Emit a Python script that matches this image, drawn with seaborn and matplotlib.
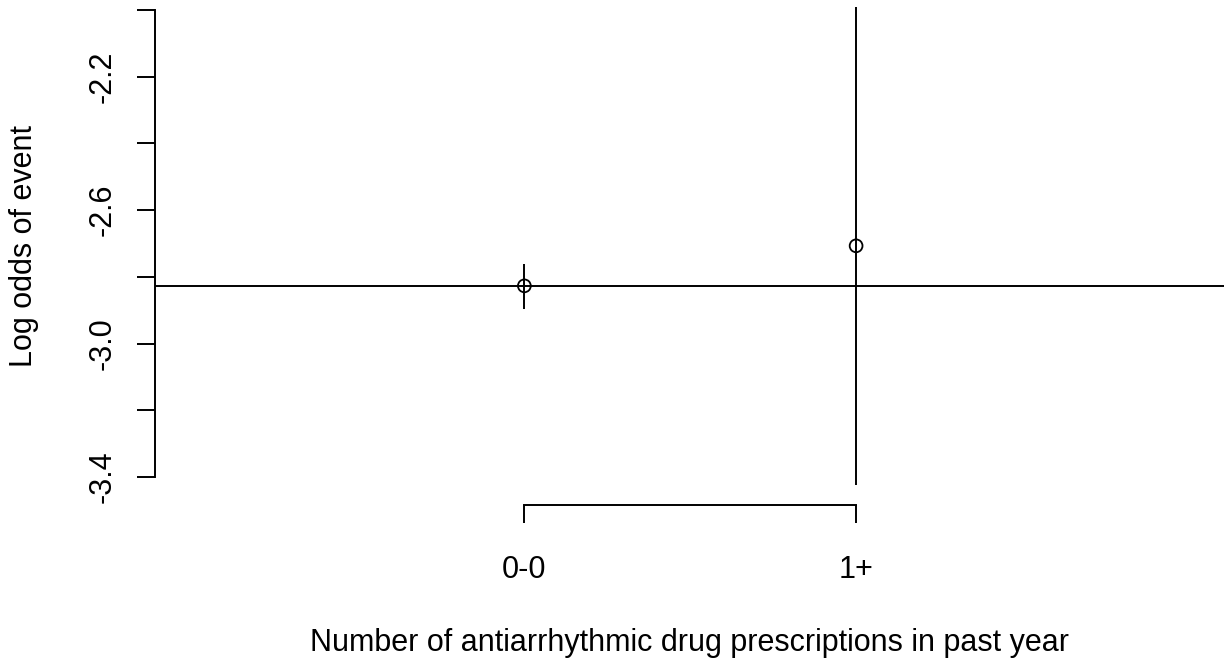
import matplotlib
matplotlib.use("Agg")
import matplotlib.pyplot as plt
import seaborn as sns
import pandas as pd

# ---- data ----
categories = ["0-0", "1+"]
x_pos = [1, 2]
log_odds = [-2.827, -2.707]
ci_lower = [-2.896, -4.5]
ci_upper = [-2.761, -1.0]
reference_value = -2.827
y_ticks = [-3.4, -3.2, -3.0, -2.8, -2.6, -2.4, -2.2, -2.0]
y_tick_labels = ["-3.4", "", "-3.0", "", "-2.6", "", "-2.2", ""]
x_title = "Number of antiarrhythmic drug prescriptions in past year"
y_title = "Log odds of event"

sns.set_theme(style="white")
plt.rcParams['font.family'] = ['Liberation Sans', 'DejaVu Sans']

W, H = 1224, 663
FS = 22
LW = 1.4
fig = plt.figure(figsize=(W / 100, H / 100), dpi=100)
fig.patch.set_facecolor("white")
ax = fig.add_axes([155 / W, 1 - 485 / H, (W - 155) / W, (485 - 7) / H])
ax.set_facecolor("white")

df = pd.DataFrame({"x": x_pos, "y": log_odds, "lo": ci_lower, "hi": ci_upper})

ax.axhline(reference_value, color="black", lw=LW, zorder=1)
ax.vlines(df["x"], df["lo"], df["hi"], color="black", lw=LW, zorder=2)
sns.scatterplot(data=df, x="x", y="y", ax=ax, marker="o", s=85,
                facecolor="none", edgecolor="black", linewidth=1.3,
                zorder=3, legend=False)

ax.set_xlim(-0.1134, 3.109)
ax.set_ylim(-3.424, -1.991)

for s in ["top", "right"]:
    ax.spines[s].set_visible(False)
for s in ["left", "bottom"]:
    ax.spines[s].set_color("black")
    ax.spines[s].set_linewidth(LW)
ax.spines["left"].set_bounds(-3.4, -2.0)
ax.spines["bottom"].set_bounds(1, 2)
ax.spines["bottom"].set_position(("outward", 14.4))

ax.set_xticks(x_pos)
ax.set_xticklabels(categories, fontsize=FS)
ax.set_yticks(y_ticks)
ax.set_yticklabels(y_tick_labels, fontsize=FS, rotation=90, va="center")
ax.tick_params(axis="both", direction="out", length=13, width=LW,
               color="black", labelcolor="black", left=True, bottom=True)
ax.tick_params(axis="x", pad=23)
ax.tick_params(axis="y", pad=14)
ax.set_xlabel("")
ax.set_ylabel("")
ax.grid(False)

fig.text(24 / W, 1 - 246 / H, y_title, rotation=90, ha="center", va="center",
         fontsize=FS, color="black")
fig.text(690 / W, 1 - 651 / H, x_title, ha="center", va="baseline",
         fontsize=FS, color="black")

fig.savefig("out.png", dpi=100, facecolor="white")
